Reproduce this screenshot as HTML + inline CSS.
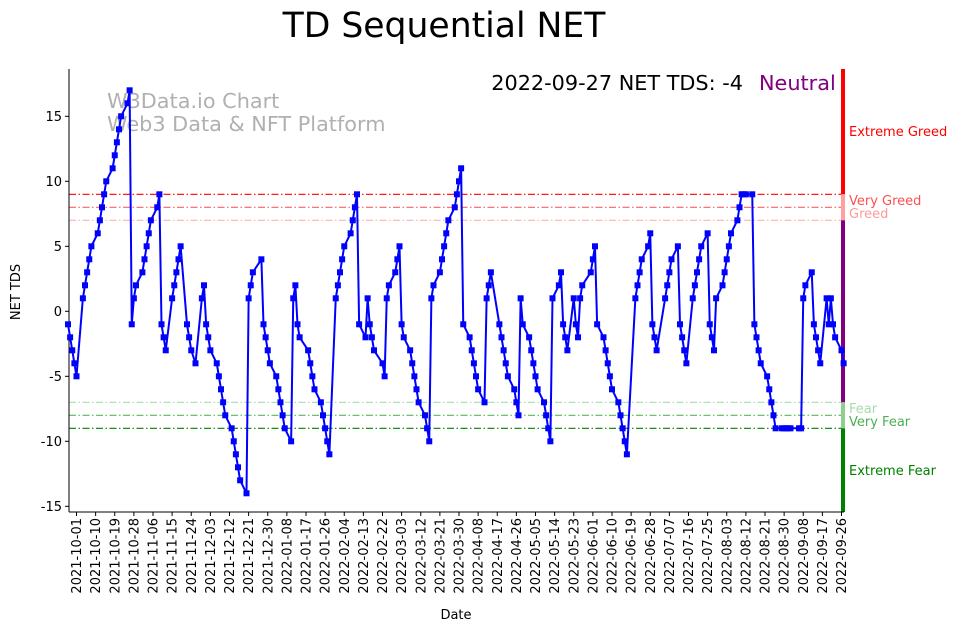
<!DOCTYPE html>
<html><head><meta charset="utf-8"><style>
html,body{margin:0;padding:0;background:#fff}
svg{display:block;font-family:"DejaVu Sans","Liberation Sans",sans-serif}
</style></head><body>
<svg id="chart" width="962" height="633" viewBox="0 0 962 633">
<text x="444" y="37" font-size="34.6" text-anchor="middle" fill="#000">TD Sequential NET</text>
<text x="107" y="108" font-size="20.8" fill="#b0b0b0">W3Data.io Chart</text>
<text x="107" y="131" font-size="20.8" fill="#b0b0b0">Web3 Data &amp; NFT Platform</text>
<text x="743" y="90" font-size="20.8" text-anchor="end" fill="#000">2022-09-27 NET TDS: -4</text>
<text x="759" y="90" font-size="20.8" fill="#800080">Neutral</text>
<g id="zones"></g>
<g id="axes"></g>
<g id="series"></g>
<text x="20" y="292" font-size="13" text-anchor="middle" transform="rotate(-90 20 292)">NET TDS</text>
<text x="456" y="619" font-size="13" text-anchor="middle">Date</text>
</svg>
<script>
const values = [
-1,-2,-3,-4,-5, 1,2,3,4,5, 6,7,8,9,10, 11,12,13,14,15, 16,17,-1,1,2, 3,4,5,6,7, 8,9,-1,-2,-3,
1,2,3,4,5, -1,-2,-3,-4, 1,2,-1,-2,-3, -4,-5,-6,-7,-8, -9,-10,-11,-12,-13, -14,1,2,3, 4,-1,-2,-3,-4,
-5,-6,-7,-8,-9, -10,1,2,-1,-2, -3,-4,-5,-6, -7,-8,-9,-10,-11, 1,2,3,4,5, 6,7,8,9,-1, -2,1,-1,-2,-3,
-4,-5,1,2, 3,4,5,-1,-2, -3,-4,-5,-6,-7, -8,-9,-10,1,2, 3,4,5,6,7, 8,9,10,11,-1, -2,-3,-4,-5,-6,
-7,1,2,3, -1,-2,-3,-4,-5, -6,-7,-8,1,-1, -2,-3,-4,-5,-6, -7,-8,-9,-10,1, 2,3,-1,-2,-3, 1,-1,-2,1,2,
3,4,5,-1, -2,-3,-4,-5,-6, -7,-8,-9,-10,-11, 1,2,3,4, 5,6,-1,-2,-3, 1,2,3,4, 5,-1,-2,-3,-4,
1,2,3,4,5, 6,-1,-2,-3,1, 2,3,4,5,6, 7,8,9,9,9, 9,-1,-2,-3,-4, -5,-6,-7,-8,-9, -9,-9,-9,-9,-9,
-9,-9,1,2, 3,-1,-2,-3,-4, 1,-1,1,-1,-2, -3,-4];
const startDate = "2021-09-27";
const holidays = ["2021-11-25","2021-12-24","2022-01-17","2022-02-21","2022-04-15","2022-05-30","2022-06-20","2022-07-04","2022-09-05"];
const yTicks = [-15,-10,-5,0,5,10,15];
const xTickLabels = ["2021-10-01","2021-10-10","2021-10-19","2021-10-28","2021-11-06","2021-11-15","2021-11-24","2021-12-03","2021-12-12","2021-12-21","2021-12-30","2022-01-08","2022-01-17","2022-01-26","2022-02-04","2022-02-13","2022-02-22","2022-03-03","2022-03-12","2022-03-21","2022-03-30","2022-04-08","2022-04-17","2022-04-26","2022-05-05","2022-05-14","2022-05-23","2022-06-01","2022-06-10","2022-06-19","2022-06-28","2022-07-07","2022-07-16","2022-07-25","2022-08-03","2022-08-12","2022-08-21","2022-08-30","2022-09-08","2022-09-17","2022-09-26"];
const levels = [9,8,7,-7,-8,-9];

const NS="http://www.w3.org/2000/svg";
const L=69,R=844,T=69,B=512;
const ORIGIN=Date.UTC(2021,9,1);
function dayOf(s){const p=s.split("-");return (Date.UTC(+p[0],+p[1]-1,+p[2])-ORIGIN)/86400000;}
function xs(d){return 76.5+2.125*d;}
function ys(v){return 311.3-13*v;}
function mk(tag,attrs,parent){const e=document.createElementNS(NS,tag);for(const k in attrs)e.setAttribute(k,attrs[k]);parent.appendChild(e);return e;}

const days=[];let cur=dayOf(startDate);const hol=holidays.map(dayOf);
while(days.length<values.length){const wd=(new Date(ORIGIN+cur*86400000)).getUTCDay();if(wd!==0&&wd!==6&&hol.indexOf(cur)<0)days.push(cur);cur++;}

const zones=document.getElementById('zones');
const lvColors=["#ff0000","#ff6060","#ffb0b0","#a8dca8","#5cb85c","#008000"];
levels.forEach((lv,i)=>{
  const ln=mk('line',{x1:L,x2:R-2,y1:ys(lv),y2:ys(lv),stroke:lvColors[i],'stroke-width':1.2,'stroke-dasharray':'7,2.5,1.5,2.5'},zones);
  
  
});
const bars=[[T,ys(9),"#ff0000","extreme-greed-bar"],[ys(9),ys(7),"#ffa0a0","greed-bar"],[ys(7),ys(-7),"#800080","neutral-bar"],[ys(-7),ys(-9),"#8fce8f","fear-bar"],[ys(-9),B,"#008000","extreme-fear-bar"]];
bars.forEach(b=>{
  const r=mk('rect',{x:841,y:b[0],width:4,height:b[1]-b[0],fill:b[2]},zones);
  
  
});
const lbls=[["Extreme Greed",136,"#ff0000"],["Very Greed",205,"#ff5050"],["Greed",218,"#ff9a9a"],["Fear",413,"#a8dca8"],["Very Fear",426,"#4caf50"],["Extreme Fear",475,"#008000"]];
lbls.forEach(l=>{
  const t=mk('text',{x:849,y:l[1],'font-size':13,fill:l[2]},zones);t.textContent=l[0];
  
  
});

const axes=document.getElementById('axes');
const ya=mk('line',{x1:L,x2:L,y1:T,y2:B,stroke:'#000','stroke-width':1},axes);


const xa=mk('line',{x1:L,x2:R,y1:B,y2:B,stroke:'#000','stroke-width':1},axes);


yTicks.forEach(v=>{
  mk('line',{x1:L-4,x2:L,y1:ys(v),y2:ys(v),stroke:'#000'},axes);
  const t=mk('text',{x:L-7,y:ys(v)+4.5,'font-size':13,'text-anchor':'end'},axes);t.textContent=v;
  
  
});
xTickLabels.forEach(s=>{
  const x=xs(dayOf(s));
  mk('line',{x1:x,x2:x,y1:B,y2:B+4,stroke:'#000'},axes);
  const t=mk('text',{x:x+4.5,y:B+6,'font-size':13,'text-anchor':'end',transform:`rotate(-90 ${x+4.5} ${B+6})`},axes);t.textContent=s;
  
  
});

const series=document.getElementById('series');
const pts=values.map((v,i)=>xs(days[i]).toFixed(2)+","+ys(v).toFixed(2)).join(" ");
const pl=mk('polyline',{points:pts,fill:'none',stroke:'#0000ff','stroke-width':2,'stroke-linejoin':'round'},series);


values.forEach((v,i)=>{
  const r=mk('rect',{x:xs(days[i])-3,y:ys(v)-3,width:6,height:6,fill:'#0000ff'},series);
  
  
});
</script>
</body></html>
